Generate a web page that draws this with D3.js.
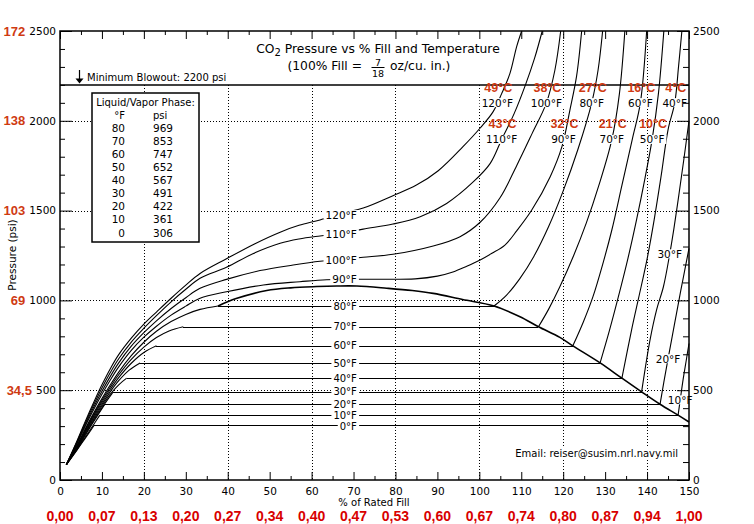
<!DOCTYPE html>
<html><head><meta charset="utf-8">
<script src="https://cdn.jsdelivr.net/npm/d3@7"></script>
<style>
body{margin:0;background:#fff}
svg{display:block}
text{font-family:"DejaVu Sans",sans-serif;fill:#000}
</style></head><body>
<svg id="c" width="754" height="524"></svg>
<script>
// ---------------- data ----------------
const fillTicks = [0,10,20,30,40,50,60,70,80,90,100,110,120,130,140,150];
const fillRatio = ["0,00","0,07","0,13","0,20","0,27","0,34","0,40","0,47","0,53","0,60","0,67","0,74","0,80","0,87","0,94","1,00"];
const psiTicks = [0,500,1000,1500,2000,2500];
const barLabels = [[2500,"172"],[2000,"138"],[1500,"103"],[1000,"69"],[500,"34,5"]];
const gridFill = [20,40,60,80,100,120,140];
const gridPsi = [500,1000,1500,2000];
const blowoutPsi = 2200;
const phaseTemps = [80,70,60,50,40,30,20,10,0];
const phasePsi  = [969,853,747,652,567,491,422,361,306];

// vapour branches [fill %, psi]
const vap0  = [[1.5,85],[4,165],[6,232],[8.2,306]];
const vap10 = [[1.5,85],[4,168],[6,238],[8,308],[9.5,361]];
const vap20 = [[1.5,85],[4,173],[6,248],[8,324],[10.7,422]];
const vap30 = [[1.5,85],[4,176],[6,254],[8,330],[10,402],[12.7,491]];
const vap40 = [[1.5,85],[4,179],[6,260],[8,338],[10,412],[12,478],[14,530],[15.9,567]];
const vap50 = [[1.5,85],[4,182],[6,266],[8,347],[10,422],[12,492],[14,553],[16.5,612],[19.1,652]];
const vap60 = [[1.5,85],[4,185],[6,272],[8,355],[10,433],[12,505],[14,570],[17,650],[20,710],[23,747]];
const vap70 = [[1.5,85],[4,188],[6,278],[8,363],[10,443],[12,518],[14,586],[17,672],[20,740],[23,793],[26,830],[29.4,853]];
const vap80 = [[1.5,85],[4,191],[6,284],[8,371],[10,453],[12,530],[14,601],[17,692],[20,767],[23,828],[26.5,882],[30,922],[33.4,950],[37.7,969]];

// liquid branches [fill %, psi]
const liq10 = [[147.4,361],[147.9,445],[148.6,560],[149.3,660],[150,760]];
const liq20 = [[143.1,422],[144,545],[145,674],[146,800],[147,925],[148,1050],[149,1170],[150,1290]];
const liq30 = [[138.7,491],[140.7,779],[142.3,950],[143.9,1076],[145.4,1258],[146.4,1400],[147.6,1590],[148.8,1790],[150,2000]];
const liq40 = [[134,567],[136.3,835],[138,1015],[140,1230],[141.7,1450],[143.4,1700],[145,1950],[146.6,2100],[147.5,2300],[148.3,2500]];
const liq50 = [[128.8,652],[131,830],[133.1,1015],[135.4,1230],[137.5,1450],[139.5,1680],[141.2,1895],[142.7,2150],[144,2500]];
const liq60 = [[122.3,747],[124.8,880],[127.1,1021],[129.5,1208],[131.6,1392],[134,1640],[136.5,1900],[138.4,2100],[139.9,2500]];
const liq70 = [[114.1,853],[116.5,950],[119.2,1076],[122.5,1250],[125.5,1430],[128.5,1640],[131.6,1895],[133.4,2150],[134.7,2500]];
const liq80 = [[103.5,969],[106.5,1030],[109.7,1123],[113,1245],[116.5,1410],[120,1610],[123.5,1840],[126.8,2100],[128.3,2280],[129.4,2500]];

// supercritical isotherms [fill %, psi]
const iso90  = [[1.5,85],[4,200],[6,298],[8,391],[10,477],[12,557],[14,630],[17,722],[20,795],[23,856],[26.5,918],[30,968],[33.4,1012],[39.7,1048],[48.5,1086],[57.2,1104],[63.6,1115],[72.3,1118],[84.7,1120],[90,1135],[93.7,1158],[97,1190],[100.2,1225],[103,1262],[106.1,1308],[109,1390],[112.5,1503],[116.9,1689],[119.7,1856],[121.6,2060],[123.2,2250],[124.4,2500]];
const iso100 = [[1.5,85],[4,205],[6,307],[8,404],[10,494],[12,577],[14,652],[17,745],[20,820],[23,886],[26.5,955],[30,1015],[33.4,1067],[39.7,1117],[47.7,1166],[55.6,1197],[62,1218],[67.5,1229],[72.3,1240],[79.4,1257],[89,1303],[95.4,1355],[100.2,1435],[104.9,1570],[108.9,1750],[112.6,1930],[116,2100],[118,2280],[119.4,2500]];
const iso110 = [[1.5,85],[4,210],[6,316],[8,417],[10,512],[12,598],[14,675],[17,768],[20,845],[23,915],[26.5,992],[30,1062],[33.4,1123],[39.7,1184],[46,1260],[52.5,1318],[57,1342],[62,1359],[67.5,1375],[72.3,1397],[79.4,1425],[85.9,1466],[92.2,1540],[98.6,1661],[102.6,1763],[105.3,1895],[108.3,2040],[111,2200],[113.2,2350],[115,2500]];
const iso120 = [[1.5,85],[4,215],[6,325],[8,430],[10,530],[12,620],[14,698],[17,790],[20,868],[23,935],[26.5,1012],[30,1085],[33.4,1150],[39.7,1232],[46.5,1316],[52.5,1380],[57,1418],[62,1448],[67.5,1487],[72.3,1514],[79.4,1583],[85,1642],[90.2,1722],[96.1,1856],[100.2,1960],[103.3,2051],[105.3,2150],[107.3,2264],[108.9,2413],[110.1,2500]];

// saturation dome [fill %, psi]
const dome = [[37.7,969],[42,1010],[49.3,1055],[55,1070],[61.2,1077],[66,1080],[70.8,1080],[77.9,1068],[84,1055],[89,1039],[96,1005],[103.5,969],[109.7,909],[114.1,853],[119.2,794],[122.3,747],[128.8,652],[134,567],[138.7,491],[143.1,422],[147.4,361],[150,323]];

// labels
const upperRow1 = [[120,"49"],[100,"38"],[80,"27"],[60,"16"],[40,"4"]];
const upperRow2 = [[110,"43"],[90,"32"],[70,"21"],[50,"10"]];
const upperRowPsi = [2100,1895];
const sideLabels = [[30,1258],[20,674],[10,445]];
const superLabelFill = 66;

// ---------------- chart ----------------
const svg = d3.select("#c");
const x = d3.scaleLinear().domain([0,150]).range([60,689]);
const y = d3.scaleLinear().domain([0,2500]).range([480,31]);
const RED1 = "#cf3a12", RED2 = "#d80000";

const vapor = {0:vap0,10:vap10,20:vap20,30:vap30,40:vap40,50:vap50,60:vap60,70:vap70,80:vap80};
const liquid = {10:liq10,20:liq20,30:liq30,40:liq40,50:liq50,60:liq60,70:liq70,80:liq80};
const superc = {90:iso90,100:iso100,110:iso110,120:iso120};

function psiAt(a,f){for(let i=1;i<a.length;i++){if(a[i][0]>=f){const [f0,p0]=a[i-1],[f1,p1]=a[i];return p0+(p1-p0)*(f-f0)/(f1-f0);}}return a[a.length-1][1];}
function fillAt(a,p){for(let i=a.length-1;i>0;i--){const [f0,p0]=a[i-1],[f1,p1]=a[i];if(p>=p0&&p<=p1)return f0+(f1-f0)*(p-p0)/(p1-p0);}return a[a.length-1][0];}
const px = v => Math.round(v)+0.5;

// grid
const grid = svg.append("g").attr("stroke","#000").attr("stroke-width",1).attr("stroke-dasharray","1,2").attr("shape-rendering","crispEdges");
grid.selectAll(".v").data(gridFill).join("line").attr("x1",d=>px(x(d))).attr("x2",d=>px(x(d))).attr("y1",y(2500)).attr("y2",y(0));
grid.selectAll(".h").data(gridPsi).join("line").attr("x1",x(0)).attr("x2",x(150)).attr("y1",d=>px(y(d))).attr("y2",d=>px(y(d)));

// title area mask
svg.append("rect").attr("x",x(0)+1).attr("y",y(2500)+1).attr("width",x(105)-x(0)).attr("height",y(blowoutPsi)-y(2500)-2).attr("fill","#fff");

// blowout line
svg.append("line").attr("x1",x(0)).attr("x2",x(150)).attr("y1",y(blowoutPsi)).attr("y2",y(blowoutPsi)).attr("stroke","#000").attr("stroke-width",1.5);

// curves
const line = d3.line().x(d=>x(d[0])).y(d=>y(d[1])).curve(d3.curveCatmullRom.alpha(0.5));
const cg = svg.append("g").attr("fill","none").attr("stroke","#000").attr("stroke-width",1.1);
Object.values(vapor).forEach(a=>cg.append("path").attr("d",line(a)));
Object.values(liquid).forEach(a=>cg.append("path").attr("d",line(a)));
Object.values(superc).forEach(a=>cg.append("path").attr("d",line(a)));
phaseTemps.forEach((t,i)=>{
  const v=vapor[t], l=liquid[t];
  const x1=v[v.length-1][0], x2=l?l[0][0]:150;
  cg.append("line").attr("x1",x(x1)).attr("x2",x(x2)).attr("y1",px(y(phasePsi[i]))).attr("y2",px(y(phasePsi[i]))).attr("stroke-width",1).attr("shape-rendering","crispEdges");
});
cg.append("path").attr("d",line(dome)).attr("stroke-width",1.6);

// masked labels
const lg = svg.append("g");
function maskedLabel(txt,X,Y,anchor,size){
  const g=lg.append("g");
  const r=g.append("rect").attr("fill","#fff");
  const t=g.append("text").attr("x",X).attr("y",Y).attr("dy","0.36em").attr("text-anchor",anchor).style("font-size",size+"px").text(txt);
  const b=t.node().getBBox();
  r.attr("x",b.x-2).attr("y",b.y+1.5).attr("width",b.width+4).attr("height",b.height-3);
  return b;
}
phaseTemps.forEach((t,i)=>maskedLabel(t+"°F",x(70.8),y(phasePsi[i])+(t===0?1.8:0),"end",10));
[120,110,100,90].forEach(t=>maskedLabel(t+"°F",x(70.8),y(psiAt(superc[t],superLabelFill)),"end",10.5));

function curveFor(t){return superc[t]||liquid[t];}
[upperRow1,upperRow2].forEach((row,ri)=>{
  const p=upperRowPsi[ri];
  row.forEach(([t,c])=>{
    const X=x(fillAt(curveFor(t),p)), Y=y(p);
    maskedLabel(t+"°F",X,Y,"middle",10.5);
    svg.append("text").attr("x",X+1).attr("y",Y-15.8).attr("dy","0.36em").attr("text-anchor","middle")
      .style("font-family","'Liberation Sans',Arial,sans-serif").style("font-weight","bold").style("font-size","12.5px").style("fill",RED1).text(c+"°C");
  });
});
sideLabels.forEach(([t,p])=>maskedLabel(t+"°F",x(fillAt(liquid[t],p)),y(p),"middle",10.5));

// table
const tb = svg.append("g");
tb.append("rect").attr("x",92).attr("y",93).attr("width",107).attr("height",149).attr("fill","#fff").attr("stroke","#000").attr("stroke-width",1.5);
tb.append("text").attr("x",145.5).attr("y",105.5).attr("text-anchor","middle").style("font-size","10px").text("Liquid/Vapor Phase:");
tb.append("text").attr("x",125).attr("y",118.6).attr("text-anchor","end").style("font-size","10px").text("°F");
tb.append("text").attr("x",153).attr("y",118.6).style("font-size","10px").text("psi");
phaseTemps.forEach((t,i)=>{
  tb.append("text").attr("x",125).attr("y",131.7+13.1*i).attr("text-anchor","end").style("font-size","10.5px").text(t);
  tb.append("text").attr("x",153).attr("y",131.7+13.1*i).style("font-size","10.5px").text(phasePsi[i]);
});

// axes
const fmt = d3.format("d");
function clean(g){g.select(".domain").remove();g.selectAll("text").style("font-family","'DejaVu Sans',sans-serif").style("font-size","10.5px").attr("fill","#000");g.selectAll("line").attr("stroke","#000");}
svg.append("g").attr("transform",`translate(0,${y(0)})`).call(d3.axisBottom(x).tickValues(fillTicks).tickSize(-8).tickPadding(7.5).tickFormat(fmt)).call(clean);
svg.append("g").attr("transform",`translate(0,${y(0)})`).call(d3.axisBottom(x).tickValues(d3.range(5,150,10)).tickSize(-4).tickFormat("")).call(clean);
svg.append("g").attr("transform",`translate(0,${y(2500)})`).call(d3.axisTop(x).tickValues(fillTicks).tickSize(-8).tickFormat("")).call(clean);
svg.append("g").attr("transform",`translate(0,${y(2500)})`).call(d3.axisTop(x).tickValues(d3.range(5,150,10)).tickSize(-4).tickFormat("")).call(clean);
const leftAx = svg.append("g").attr("transform",`translate(${x(0)},0)`).call(d3.axisLeft(y).tickValues(psiTicks).tickSize(-12).tickPadding(4).tickFormat(fmt)).call(clean);
svg.append("g").attr("transform",`translate(${x(0)},0)`).call(d3.axisLeft(y).tickValues(d3.range(100,2500,100).filter(d=>d%500)).tickSize(-5).tickFormat("")).call(clean);
svg.append("g").attr("transform",`translate(${x(150)},0)`).call(d3.axisRight(y).tickValues(psiTicks).tickSize(-12).tickPadding(4).tickFormat(fmt)).call(clean);
svg.append("g").attr("transform",`translate(${x(150)},0)`).call(d3.axisRight(y).tickValues(d3.range(100,2500,100).filter(d=>d%500)).tickSize(-6).tickFormat("")).call(clean);

// frame
svg.append("rect").attr("x",x(0)).attr("y",y(2500)).attr("width",x(150)-x(0)).attr("height",y(0)-y(2500)).attr("fill","none").attr("stroke","#000").attr("stroke-width",1.5);

// red scales
leftAx.selectAll(".tick").each(function(d){
  const lab = barLabels.find(b=>b[0]===d); if(!lab) return;
  const bb = d3.select(this).select("text").node().getBBox();
  svg.append("text").attr("x",x(0)+bb.x-4).attr("y",y(d)).attr("dy","0.36em").attr("text-anchor","end")
    .style("font-family","'Liberation Sans',Arial,sans-serif").style("font-weight","bold").style("font-size","13px").style("fill",RED1).text(lab[1]);
});
svg.append("g").selectAll("text").data(fillTicks).join("text").attr("x",d=>x(d)).attr("y",520.5).attr("text-anchor","middle")
  .style("font-family","'Liberation Sans',Arial,sans-serif").style("font-weight","bold").style("font-size","14px").style("fill",RED2).text((d,i)=>fillRatio[i]);

// axis titles
svg.append("text").attr("x",374).attr("y",505.5).attr("text-anchor","middle").style("font-size","10px").text("% of Rated Fill");
svg.append("text").attr("transform","translate(16,255) rotate(-90)").attr("text-anchor","middle").style("font-size","10.5px").text("Pressure (psi)");

// title
const tt = svg.append("text").attr("x",378).attr("y",52.5).attr("text-anchor","middle").style("font-size","12.3px");
tt.append("tspan").text("CO");
tt.append("tspan").attr("dy",3.5).style("font-size","10px").text("2");
tt.append("tspan").attr("dy",-3.5).text(" Pressure vs % Fill and Temperature");
svg.append("text").attr("x",362).attr("y",70).attr("text-anchor","end").style("font-size","12.3px").text("(100% Fill =");
svg.append("text").attr("x",378).attr("y",66).attr("text-anchor","middle").style("font-size","9.5px").text("7");
svg.append("line").attr("x1",371.5).attr("x2",384.5).attr("y1",67.5).attr("y2",67.5).attr("stroke","#000").attr("stroke-width",1);
svg.append("text").attr("x",378).attr("y",76.5).attr("text-anchor","middle").style("font-size","9.5px").text("18");
svg.append("text").attr("x",390).attr("y",70).style("font-size","12.3px").text("oz/cu. in.)");

// blowout note
svg.append("path").attr("d","M79.5,70V81").attr("stroke","#000").attr("stroke-width",1.2);
svg.append("path").attr("d","M75.5,78.5L83.5,78.5L79.5,83.5Z").attr("fill","#000");
svg.append("text").attr("x",87).attr("y",81).style("font-size","10px").text("Minimum Blowout: 2200 psi");

// email
(function(){
  const g=svg.append("g");
  const r=g.append("rect").attr("fill","#fff");
  const t=g.append("text").attr("x",678).attr("y",457).attr("text-anchor","end").style("font-size","10px").text("Email: reiser@susim.nrl.navy.mil");
  const b=t.node().getBBox();
  r.attr("x",b.x-3).attr("y",b.y-1).attr("width",b.width+6).attr("height",b.height+2);
})();
</script>
</body></html>
